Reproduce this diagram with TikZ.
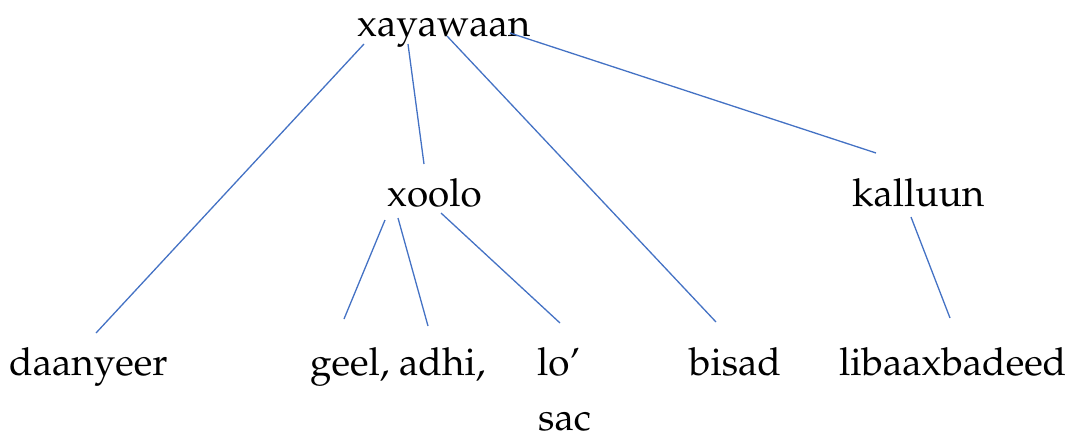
\documentclass[tikz,border=0pt]{standalone}
\usepackage[T1]{fontenc}
\usepackage{mathpazo}
\tikzset{
  word/.style={inner sep=0pt, anchor=base west, font=\fontsize{38.6}{41}\selectfont},
  branch/.style={draw=linkblue, line width=1.3pt}
}
\definecolor{linkblue}{HTML}{4472C4}
\begin{document}
\begin{tikzpicture}[x=1pt,y=-1pt]
\useasboundingbox (0,0) rectangle (1071,434);
% words
\node[word] (root) at (357,36) {xayawaan};
\node[word] (xoolo) at (387,206) {xoolo};
\node[word] (kalluun) at (852,206) {kalluun};
\node[word] (daanyeer) at (9,375) {daanyeer};
\node[word] (geel) at (310,375) {geel, adhi,};
\node[word] (lo) at (537,375) {lo'};
\node[word] (sac) at (538,430) {sac};
\node[word] (bisad) at (689,375) {bisad};
\node[word] (libaax) at (839,375) {libaaxbadeed};
% branch end points
\coordinate (r1) at (364,44);  \coordinate (d1) at (96,333);
\coordinate (r2) at (408,44);  \coordinate (x0) at (424,164);
\coordinate (r3) at (447,36);  \coordinate (b1) at (716,322);
\coordinate (r4) at (510,33);  \coordinate (k0) at (876,153);
\coordinate (x1) at (385,220); \coordinate (g1) at (344,319);
\coordinate (x2) at (398,218); \coordinate (g2) at (428,326);
\coordinate (x3) at (441,213); \coordinate (l1) at (560,323);
\coordinate (k1) at (911,217); \coordinate (lb) at (950,318);
% branches
\draw[branch] (r1) -- (d1);
\draw[branch] (r2) -- (x0);
\draw[branch] (r3) -- (b1);
\draw[branch] (r4) -- (k0);
\draw[branch] (x1) -- (g1);
\draw[branch] (x2) -- (g2);
\draw[branch] (x3) -- (l1);
\draw[branch] (k1) -- (lb);
\end{tikzpicture}
\end{document}
